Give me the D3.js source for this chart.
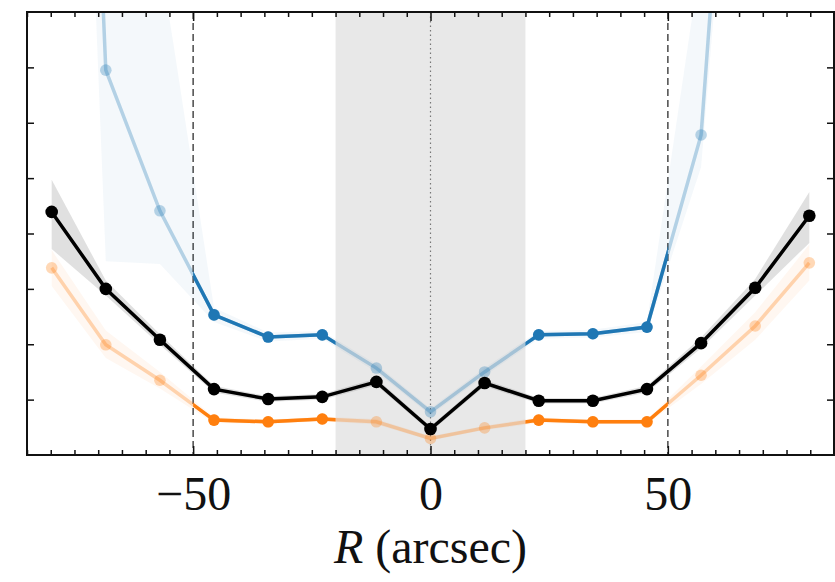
<!DOCTYPE html>
<html lang="en">
<head>
    <meta charset="UTF-8">
    <title>Profile vs R</title>
    <script src="https://cdnjs.cloudflare.com/ajax/libs/d3/7.8.5/d3.min.js"></script>
    <style>
        html, body {
            margin: 0;
            padding: 0;
            background: #fff;
        }
        svg {
            display: block;
        }
        .label {
            font-family: 'Liberation Serif', 'DejaVu Serif', serif;
            fill: #111;
        }
    </style>
</head>
<body>
    <svg width="835" height="582"></svg>
    <script>
        // radial positions (arcsec)
        const radii = [-79.8, -68.4, -57, -45.6, -34.2, -22.8, -11.4, 0, 11.4, 22.8, 34.2, 45.6, 57, 68.4, 79.8];

        // black profile + its error band
        const blackVals = [4.39, 3.00, 2.08, 1.19, 1.01, 1.05, 1.32, 0.47, 1.30, 0.98, 0.98, 1.19, 2.02, 3.02, 4.32];
        const blackLo   = [3.72, 2.88, 1.99, 1.13, 0.96, 1.00, 1.26, 0.42, 1.24, 0.93, 0.93, 1.13, 1.93, 2.88, 3.83];
        const blackHi   = [4.97, 3.15, 2.18, 1.25, 1.06, 1.10, 1.38, 0.52, 1.36, 1.03, 1.03, 1.25, 2.12, 3.18, 4.75];

        // blue profile (outer points run off the top)
        const blueVals = [30, 6.95, 4.41, 2.53, 2.13, 2.17, 1.57, 0.78, 1.50, 2.17, 2.19, 2.31, 5.78, 19, 35];
        const blueLo   = [28, 3.50, 3.45, 2.40, 2.05, 2.10, 1.50, 0.72, 1.43, 2.10, 2.12, 2.22, 5.20, 17, 25];
        const blueHi   = [45, 10.0, 9.00, 2.66, 2.21, 2.24, 1.64, 0.84, 1.57, 2.24, 2.26, 2.40, 9.00, 30, 50];

        // orange profile
        const orangeVals = [3.38, 1.99, 1.35, 0.63, 0.60, 0.65, 0.60, 0.30, 0.49, 0.63, 0.60, 0.60, 1.44, 2.33, 3.47];
        const orangeLo   = [3.05, 1.75, 1.20, 0.58, 0.56, 0.61, 0.55, 0.26, 0.45, 0.58, 0.56, 0.56, 1.28, 2.08, 3.15];
        const orangeHi   = [3.70, 2.25, 1.50, 0.68, 0.64, 0.69, 0.65, 0.34, 0.53, 0.68, 0.64, 0.64, 1.60, 2.58, 3.80];

        // reference regions
        const innerBand = [-20, 20];
        const apertureLines = [-50, 50];
        const majorTicks = [-50, 0, 50];
        const yTicks = [1, 2, 3, 4, 5, 6, 7];

        const svg = d3.select("svg");
        const mLeft = 27, mRight = 834, mTop = 12, mBottom = 455;

        const x = d3.scaleLinear().domain([-85, 85]).range([mLeft, mRight]);
        const y = d3.scaleLinear().domain([0, 8]).range([mBottom, mTop]);

        const blue = "#1f77b4";
        const orange = "#ff7f0e";

        const defs = svg.append("defs");
        defs.append("clipPath").attr("id", "plot")
            .append("rect")
            .attr("x", mLeft).attr("y", mTop)
            .attr("width", mRight - mLeft).attr("height", mBottom - mTop);

        // only the 20 < |R| < 50 part is drawn in full colour
        const ring = defs.append("clipPath").attr("id", "ring");
        [[-50, -20], [20, 50]].forEach(r => {
            ring.append("rect")
                .attr("x", x(r[0])).attr("y", mTop)
                .attr("width", x(r[1]) - x(r[0])).attr("height", mBottom - mTop);
        });

        const g = svg.append("g").attr("clip-path", "url(#plot)");

        // grey inner region
        g.append("rect")
            .attr("x", x(innerBand[0]))
            .attr("y", mTop)
            .attr("width", x(innerBand[1]) - x(innerBand[0]))
            .attr("height", mBottom - mTop)
            .attr("fill", "#e8e8e8");

        g.selectAll(".aperture")
            .data(apertureLines)
            .enter()
            .append("line")
            .attr("x1", d => x(d)).attr("x2", d => x(d))
            .attr("y1", mTop).attr("y2", mBottom)
            .attr("stroke", "#555")
            .attr("stroke-width", 1.6)
            .attr("stroke-dasharray", "7,4");

        g.append("line")
            .attr("x1", x(0)).attr("x2", x(0))
            .attr("y1", mTop).attr("y2", mBottom)
            .attr("stroke", "#777")
            .attr("stroke-width", 1.2)
            .attr("stroke-dasharray", "1.5,3");

        const area = (lo, hi) => d3.area()
            .x((d, i) => x(radii[i]))
            .y0((d, i) => y(lo[i]))
            .y1((d, i) => y(hi[i]))(radii);

        const line = vals => d3.line()
            .x((d, i) => x(radii[i]))
            .y(d => y(d))(vals);

        g.append("path").attr("d", area(blueLo, blueHi))
            .attr("fill", blue).attr("fill-opacity", 0.05);
        g.append("path").attr("d", area(orangeLo, orangeHi))
            .attr("fill", orange).attr("fill-opacity", 0.06);
        g.append("path").attr("d", area(blackLo, blackHi))
            .attr("fill", "#999").attr("fill-opacity", 0.3);

        function drawSeries(vals, color) {
            // faded everywhere
            g.append("path").attr("d", line(vals))
                .attr("fill", "none")
                .attr("stroke", color)
                .attr("stroke-opacity", 0.3)
                .attr("stroke-width", 3.5);
            g.selectAll(null)
                .data(vals)
                .enter()
                .append("circle")
                .attr("cx", (d, i) => x(radii[i]))
                .attr("cy", d => y(d))
                .attr("r", 5.8)
                .attr("fill", color)
                .attr("fill-opacity", 0.3);

            // full colour inside the ring
            const ringG = g.append("g").attr("clip-path", "url(#ring)");
            ringG.append("path").attr("d", line(vals))
                .attr("fill", "none")
                .attr("stroke", color)
                .attr("stroke-width", 3.5);
            ringG.selectAll("circle")
                .data(vals)
                .enter()
                .append("circle")
                .attr("cx", (d, i) => x(radii[i]))
                .attr("cy", d => y(d))
                .attr("r", 5.8)
                .attr("fill", color);
        }

        drawSeries(blueVals, blue);
        drawSeries(orangeVals, orange);

        g.append("path").attr("d", line(blackVals))
            .attr("fill", "none")
            .attr("stroke", "#000")
            .attr("stroke-width", 3.5);
        g.selectAll(".blackdot")
            .data(blackVals)
            .enter()
            .append("circle")
            .attr("cx", (d, i) => x(radii[i]))
            .attr("cy", d => y(d))
            .attr("r", 6.3)
            .attr("fill", "#000");

        // ticks, all pointing inward
        const minor = d3.range(-85, 86, 5).filter(v => v % 50 !== 0);
        svg.append("g").attr("transform", `translate(0,${mBottom})`)
            .call(d3.axisBottom(x).tickValues(minor).tickSize(-5).tickFormat(""));
        svg.append("g").attr("transform", `translate(0,${mTop})`)
            .call(d3.axisTop(x).tickValues(minor).tickSize(-5).tickFormat(""));
        svg.append("g").attr("transform", `translate(0,${mTop})`)
            .call(d3.axisTop(x).tickValues(majorTicks).tickSize(-9).tickFormat(""));
        const xAxis = svg.append("g").attr("transform", `translate(0,${mBottom})`)
            .call(d3.axisBottom(x).tickValues(majorTicks).tickSize(-9).tickPadding(21));
        xAxis.selectAll("text")
            .attr("class", "label")
            .attr("font-size", 48);
        svg.append("g").attr("transform", `translate(${mLeft},0)`)
            .call(d3.axisLeft(y).tickValues(yTicks).tickSize(-7).tickFormat(""));
        svg.append("g").attr("transform", `translate(${mRight},0)`)
            .call(d3.axisRight(y).tickValues(yTicks).tickSize(-7).tickFormat(""));

        svg.selectAll(".domain").remove();
        svg.selectAll(".tick line").attr("stroke", "#111").attr("stroke-width", 1.5);

        svg.append("rect")
            .attr("x", mLeft).attr("y", mTop)
            .attr("width", mRight - mLeft).attr("height", mBottom - mTop)
            .attr("fill", "none")
            .attr("stroke", "#111")
            .attr("stroke-width", 2);

        const title = svg.append("text")
            .attr("class", "label")
            .attr("x", x(0))
            .attr("y", 563)
            .attr("text-anchor", "middle")
            .attr("font-size", 48);
        title.append("tspan").attr("font-style", "italic").text("R");
        title.append("tspan").text(" (arcsec)");
    </script>
</body>
</html>
